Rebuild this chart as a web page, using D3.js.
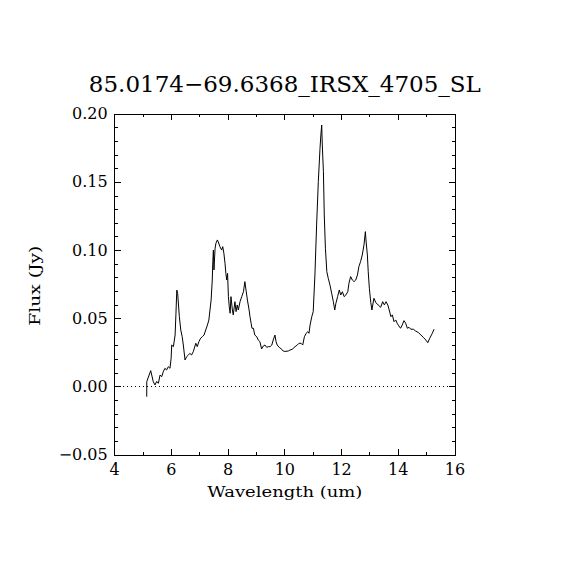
<!DOCTYPE html>
<html>
<head>
<meta charset="utf-8">
<script src="https://cdn.jsdelivr.net/npm/d3@7"></script>
<style>
  body { margin: 0; background: #fff; }
  svg { display: block; }
  text { font-family: "DejaVu Serif", "Liberation Serif", serif; fill: #000; }
</style>
</head>
<body>
<svg></svg>
<script>
let width = 570;
let height = 570;

let title = "85.0174\u221269.6368_IRSX_4705_SL";
let xLabel = "Wavelength (um)";
let yLabel = "Flux (Jy)";

let xTicks = [4, 6, 8, 10, 12, 14, 16];
let yTicks = [-0.05, 0.0, 0.05, 0.1, 0.15, 0.2];

// spectrum
let wave = [
  5.13, 5.13, 5.27, 5.36, 5.42, 5.48, 5.54, 5.60, 5.66, 5.71, 5.77, 5.83, 5.89, 5.95,
  5.99, 6.01, 6.07, 6.13, 6.16, 6.19, 6.22, 6.28, 6.33, 6.38, 6.42, 6.48, 6.54, 6.60,
  6.65, 6.71, 6.77, 6.86, 6.91, 6.97, 7.03, 7.09, 7.15, 7.21, 7.27, 7.32, 7.36, 7.40,
  7.44, 7.46, 7.48, 7.50, 7.54, 7.57, 7.62, 7.65, 7.71, 7.77, 7.81, 7.85, 7.89, 7.92,
  7.95, 7.98, 8.01, 8.04, 8.07, 8.10, 8.15, 8.18, 8.24, 8.28, 8.32, 8.36, 8.42, 8.48,
  8.54, 8.59, 8.63, 8.68, 8.74, 8.77, 8.81, 8.84, 8.89, 8.94, 9.01, 9.06, 9.12, 9.18,
  9.24, 9.30, 9.36, 9.42, 9.48, 9.54, 9.59, 9.65, 9.69, 9.73, 9.80, 9.89, 9.94, 10.00,
  10.12, 10.18, 10.26, 10.36, 10.44, 10.50, 10.57, 10.63, 10.69, 10.75, 10.81, 10.85,
  10.89, 10.95, 11.00, 11.06, 11.12, 11.18, 11.24, 11.27, 11.30, 11.32, 11.36, 11.39,
  11.43, 11.48, 11.53, 11.59, 11.65, 11.71, 11.76, 11.80, 11.86, 11.92, 11.97, 12.03,
  12.09, 12.15, 12.22, 12.26, 12.32, 12.38, 12.44, 12.50, 12.56, 12.61, 12.67, 12.73,
  12.79, 12.84, 12.86, 12.91, 12.94, 12.98, 13.03, 13.07, 13.14, 13.21, 13.29, 13.38,
  13.45, 13.51, 13.57, 13.63, 13.68, 13.74, 13.79, 13.85, 13.91, 13.96, 14.02, 14.08,
  14.14, 14.20, 14.26, 14.32, 14.38, 14.44, 14.53, 14.61, 14.71, 14.80, 14.88, 14.97,
  15.04, 15.11, 15.20, 15.26
];
let flux = [
  -0.0072, 0.0038, 0.0119, 0.0038, 0.0014, 0.0040, 0.0026, 0.0087, 0.0075, 0.0110, 0.0136, 0.0124, 0.0148, 0.0136,
  0.0210, 0.0307, 0.0295, 0.0380, 0.0540, 0.0710, 0.0687, 0.0515, 0.0417, 0.0368, 0.0307, 0.0197, 0.0222, 0.0234,
  0.0246, 0.0234, 0.0258, 0.0320, 0.0295, 0.0332, 0.0357, 0.0368, 0.0380, 0.0417, 0.0454, 0.0490, 0.0564, 0.0637,
  0.0784, 0.0919, 0.1004, 0.0858, 0.1017, 0.1054, 0.1078, 0.1065, 0.1029, 0.1004, 0.1029, 0.0980, 0.0907, 0.0833,
  0.0784, 0.0833, 0.0662, 0.0588, 0.0540, 0.0662, 0.0564, 0.0528, 0.0625, 0.0552, 0.0601, 0.0564, 0.0625, 0.0662,
  0.0698, 0.0772, 0.0711, 0.0637, 0.0564, 0.0515, 0.0467, 0.0430, 0.0430, 0.0380, 0.0368, 0.0344, 0.0332, 0.0278,
  0.0300, 0.0307, 0.0290, 0.0295, 0.0295, 0.0307, 0.0344, 0.0380, 0.0332, 0.0307, 0.0290, 0.0276, 0.0263, 0.0260,
  0.0263, 0.0270, 0.0276, 0.0295, 0.0307, 0.0320, 0.0320, 0.0307, 0.0368, 0.0393, 0.0405, 0.0393,
  0.0454, 0.0515, 0.0552, 0.0820, 0.1188, 0.1506, 0.1750, 0.1848, 0.1921, 0.1775, 0.1580, 0.1261,
  0.1017, 0.0845, 0.0797, 0.0748, 0.0687, 0.0625, 0.0564, 0.0613, 0.0662, 0.0711, 0.0674, 0.0698,
  0.0662, 0.0674, 0.0698, 0.0760, 0.0809, 0.0784, 0.0772, 0.0784, 0.0821, 0.0882, 0.0919, 0.0968,
  0.1041, 0.1139, 0.1078, 0.0968, 0.0845, 0.0723, 0.0620, 0.0564, 0.0650, 0.0618, 0.0601, 0.0584,
  0.0625, 0.0601, 0.0625, 0.0601, 0.0564, 0.0515, 0.0528, 0.0478, 0.0491, 0.0467, 0.0447, 0.0430,
  0.0454, 0.0486, 0.0467, 0.0430, 0.0437, 0.0423, 0.0423, 0.0410, 0.0398, 0.0380, 0.0364, 0.0344,
  0.0324, 0.0357, 0.0393, 0.0423
];

let values = wave.map((w, i) => [w, flux[i]]);

let plotLeft = 114.7, plotRight = 455, plotTop = 114.3, plotBottom = 455;

let svg = d3.select("svg").attr("width", width).attr("height", height);

let xScale = d3.scaleLinear().domain([4, 16]).range([plotLeft, plotRight]);
let yScale = d3.scaleLinear().domain([-0.05, 0.2]).range([plotBottom, plotTop]);

// minor ticks
let xMinor = d3.range(4, 16.01, 1);
let yMinor = d3.range(-0.05, 0.2001, 0.01);

function drawTicks() {
  let g = svg.append("g").attr("stroke", "#000").attr("stroke-width", 1)
    .attr("shape-rendering", "crispEdges");
  xMinor.forEach((v) => {
    let len = Math.abs(v % 2) < 1e-6 ? 6 : 3;
    g.append("line").attr("x1", xScale(v)).attr("x2", xScale(v))
      .attr("y1", plotBottom).attr("y2", plotBottom - len);
    g.append("line").attr("x1", xScale(v)).attr("x2", xScale(v))
      .attr("y1", plotTop).attr("y2", plotTop + len);
  });
  yMinor.forEach((v, i) => {
    let len = i % 5 === 0 ? 6 : 3;
    g.append("line").attr("y1", yScale(v)).attr("y2", yScale(v))
      .attr("x1", plotLeft).attr("x2", plotLeft + len);
    g.append("line").attr("y1", yScale(v)).attr("y2", yScale(v))
      .attr("x1", plotRight).attr("x2", plotRight - len);
  });
  g.append("rect").attr("x", plotLeft).attr("y", plotTop)
    .attr("width", plotRight - plotLeft).attr("height", plotBottom - plotTop)
    .attr("fill", "none");
}

function drawLabels() {
  svg.selectAll(".xt").data(xTicks).enter().append("text")
    .attr("class", "xt")
    .attr("x", (d) => xScale(d))
    .attr("y", plotBottom + 20)
    .attr("text-anchor", "middle")
    .style("font-size", "16px")
    .text((d) => d);

  svg.selectAll(".yt").data(yTicks).enter().append("text")
    .attr("class", "yt")
    .attr("x", plotLeft - 7)
    .attr("y", (d) => yScale(d) + 5)
    .attr("text-anchor", "end")
    .style("font-size", "16px")
    .text((d) => (d < 0 ? "\u2212" : "") + Math.abs(d).toFixed(2));

  svg.append("text")
    .attr("x", (plotLeft + plotRight) / 2)
    .attr("y", 92)
    .attr("text-anchor", "middle")
    .attr("textLength", 392)
    .attr("lengthAdjust", "spacingAndGlyphs")
    .style("font-size", "23px")
    .text(title);

  svg.append("text")
    .attr("x", (plotLeft + plotRight) / 2)
    .attr("y", 497)
    .attr("text-anchor", "middle")
    .attr("textLength", 155)
    .attr("lengthAdjust", "spacingAndGlyphs")
    .style("font-size", "15px")
    .text(xLabel);

  svg.append("text")
    .attr("transform", `translate(40, ${(plotTop + plotBottom) / 2 + 1}) rotate(-90)`)
    .attr("text-anchor", "middle")
    .attr("textLength", 80)
    .attr("lengthAdjust", "spacingAndGlyphs")
    .style("font-size", "15px")
    .text(yLabel);
}

function drawData() {
  svg.append("line")
    .attr("x1", plotLeft).attr("x2", plotRight)
    .attr("y1", yScale(0)).attr("y2", yScale(0))
    .attr("stroke", "#000").attr("stroke-width", 1)
    .attr("stroke-dasharray", "1,3")
    .attr("shape-rendering", "crispEdges");

  let line = d3.line().x((d) => xScale(d[0])).y((d) => yScale(d[1]));
  svg.append("path")
    .datum(values)
    .attr("d", line)
    .attr("fill", "none")
    .attr("stroke", "#000")
    .attr("stroke-width", 1);
}

drawTicks();
drawData();
drawLabels();
</script>
</body>
</html>
